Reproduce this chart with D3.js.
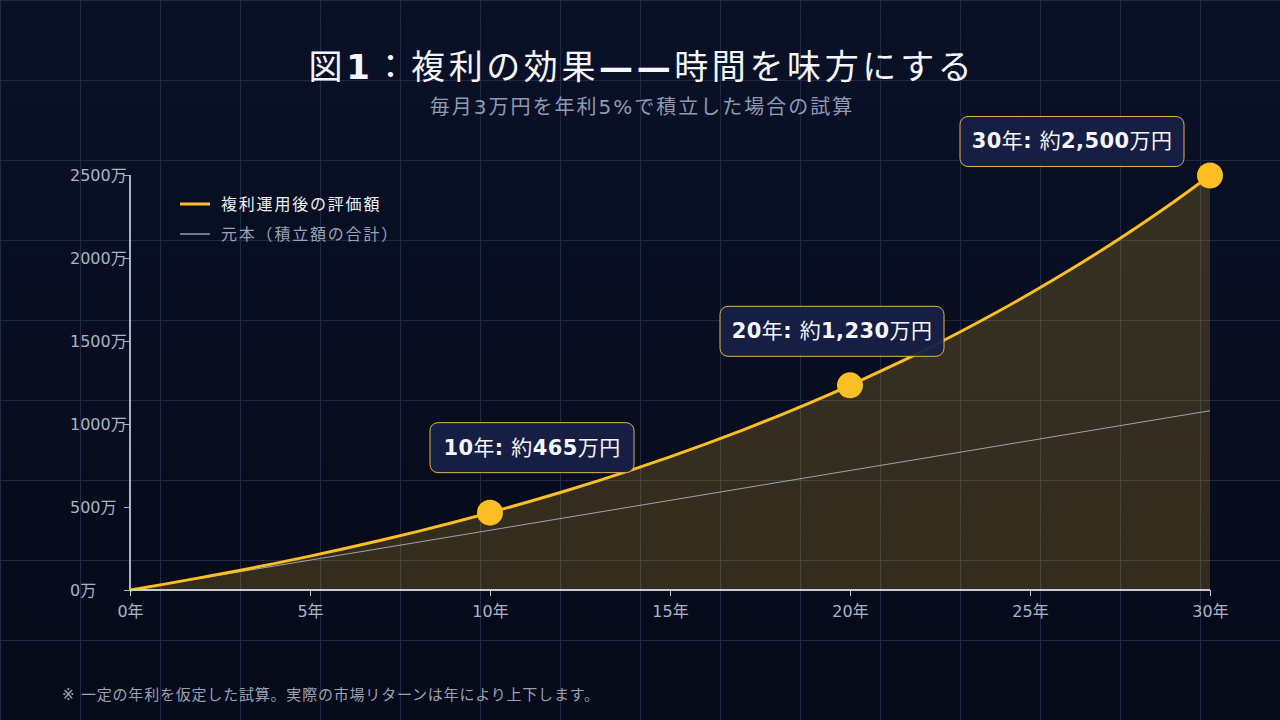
<!DOCTYPE html>
<html lang="ja">
<head>
<meta charset="utf-8">
<script src="https://cdn.jsdelivr.net/npm/d3@7.9.0/dist/d3.min.js"></script>
<style>
  html, body { margin: 0; padding: 0; background: #080d1f; }
  svg { display: block; font-family: "DejaVu Sans", "Noto Sans CJK JP", sans-serif; }
</style>
</head>
<body>
<svg id="chart" width="1280" height="720"></svg>
<script>
// ---- data (万円) ----
const years = d3.range(0, 31);
const compoundValues = [
  0, 37, 76, 116, 159, 204, 251, 301, 353, 408,
  466, 527, 590, 657, 728, 802, 880, 962, 1048, 1138,
  1233, 1333, 1438, 1548, 1664, 1786, 1914, 2048, 2190, 2339, 2497
];
const principalValues = [
  0, 36, 72, 108, 144, 180, 216, 252, 288, 324,
  360, 396, 432, 468, 504, 540, 576, 612, 648, 684,
  720, 756, 792, 828, 864, 900, 936, 972, 1008, 1044, 1080
];
const yTicks = [0, 500, 1000, 1500, 2000, 2500];
const xTicks = [0, 5, 10, 15, 20, 25, 30];
const markerYears = [10, 20, 30];
const markerLabels = ['465', '1,230', '2,500'];
const seriesNames = ['複利運用後の評価額', '元本（積立額の合計）'];

const GOLD = '#fbbf24';

const svg = d3.select('#chart');
const W = 1280, H = 720;

// background + 80px grid
const bg = svg.append('defs').append('linearGradient')
  .attr('id', 'bg').attr('x1', 0).attr('y1', 0).attr('x2', 0).attr('y2', 1);
bg.append('stop').attr('offset', 0).attr('stop-color', '#0a1127');
bg.append('stop').attr('offset', 1).attr('stop-color', '#060a19');
svg.append('rect').attr('width', W).attr('height', H).attr('fill', 'url(#bg)');

const grid = svg.append('g').attr('stroke', '#1f2844').attr('stroke-width', 1);
grid.selectAll('line.v').data(d3.range(0, W + 1, 80)).join('line')
  .attr('x1', d => d + 0.5).attr('x2', d => d + 0.5).attr('y1', 0).attr('y2', H);
grid.selectAll('line.h').data(d3.range(0, H + 1, 80)).join('line')
  .attr('y1', d => d + 0.5).attr('y2', d => d + 0.5).attr('x1', 0).attr('x2', W);

// scales
const x = d3.scaleLinear().domain([0, 30]).range([130, 1210]);
const y = d3.scaleLinear().domain([0, 2500]).range([590, 175]);

// title (latin bits bold, CJK regular like the original)
const title = svg.append('text')
  .attr('x', 642).attr('y', 79).attr('text-anchor', 'middle')
  .attr('fill', '#f4f6fb').attr('font-size', 34).attr('letter-spacing', 3.6);
title.append('tspan').text('図');
title.append('tspan').attr('font-weight', 'bold').text('1');
title.append('tspan').text('：複利の効果');
title.append('tspan').attr('font-weight', 'bold').text('——');
title.append('tspan').text('時間を味方にする');

svg.append('text')
  .attr('x', 642).attr('y', 114).attr('text-anchor', 'middle')
  .attr('fill', '#8f9bb3').attr('font-size', 20).attr('letter-spacing', 2)
  .text('毎月3万円を年利5%で積立した場合の試算');

// area + lines
const area = d3.area()
  .x((d, i) => x(years[i])).y0(y(0)).y1(d => y(d))
  .curve(d3.curveMonotoneX);
svg.append('path').datum(compoundValues)
  .attr('d', area).attr('fill', GOLD).attr('fill-opacity', 0.19);

const line = d3.line()
  .x((d, i) => x(years[i])).y(d => y(d))
  .curve(d3.curveMonotoneX);
svg.append('path').datum(principalValues)
  .attr('d', line).attr('fill', 'none')
  .attr('stroke', '#b8c0d0').attr('stroke-width', 1).attr('stroke-opacity', 0.8);
svg.append('path').datum(compoundValues)
  .attr('d', line).attr('fill', 'none')
  .attr('stroke', GOLD).attr('stroke-width', 3);

// axes
const yAxis = svg.append('g').attr('transform', `translate(${x(0)},0)`)
  .call(d3.axisLeft(y).tickValues(yTicks).tickSize(6).tickFormat(''));
yAxis.select('.domain').attr('stroke', '#a9b4c8').attr('stroke-width', 2)
  .attr('d', `M0,${y(0)}V${y(2500)}`);
yAxis.selectAll('.tick line').attr('stroke', '#a9b4c8');
svg.append('g').selectAll('text').data(yTicks).join('text')
  .attr('x', 70).attr('y', d => y(d) + 6)
  .attr('fill', '#a9b4c8').attr('font-size', 16)
  .text(d => `${d}万`);

const xAxis = svg.append('g').attr('transform', `translate(0,${y(0)})`)
  .call(d3.axisBottom(x).tickValues(xTicks).tickSize(6).tickPadding(10)
    .tickFormat(d => `${d}年`));
xAxis.select('.domain').attr('stroke', '#c9ccd4').attr('stroke-width', 2)
  .attr('d', `M${x(0)},0H${x(30)}`);
xAxis.selectAll('.tick line').attr('stroke', '#c9ccd4');
xAxis.selectAll('.tick text').attr('fill', '#a9b4c8').attr('font-size', 16)
  .attr('font-family', '"DejaVu Sans", "Noto Sans CJK JP", sans-serif');

// legend
const legend = svg.append('g').attr('transform', 'translate(180,204)');
legend.selectAll('line').data(seriesNames).join('line')
  .attr('x1', 0).attr('x2', 30)
  .attr('y1', (d, i) => i * 30).attr('y2', (d, i) => i * 30)
  .attr('stroke', (d, i) => i === 0 ? GOLD : '#b8c0d0')
  .attr('stroke-width', (d, i) => i === 0 ? 3 : 1.2);
legend.selectAll('text').data(seriesNames).join('text')
  .attr('x', 41).attr('y', (d, i) => i * 30 + 6)
  .attr('font-size', 16).attr('letter-spacing', 1.8)
  .attr('fill', (d, i) => i === 0 ? '#eef1f6' : '#98a3b8')
  .text(d => d);

// markers + callouts
const boxOffsets = [[-60, -90], [-130, -79], [-250, -59]];
const boxW = [204, 224, 224], boxH = 50;
markerYears.forEach((yr, i) => {
  const cx = x(yr), cy = y(compoundValues[yr]);
  const bx = cx + boxOffsets[i][0], by = cy + boxOffsets[i][1];
  const g = svg.append('g');
  g.append('rect')
    .attr('x', bx).attr('y', by).attr('width', boxW[i]).attr('height', boxH)
    .attr('rx', 8).attr('fill', '#172046').attr('fill-opacity', 0.95)
    .attr('stroke', '#e3b545').attr('stroke-width', 1);
  const t = g.append('text')
    .attr('x', bx + boxW[i] / 2).attr('y', by + 32).attr('text-anchor', 'middle')
    .attr('fill', '#f4f6fb').attr('font-size', 21).attr('letter-spacing', 0.4);
  t.append('tspan').attr('font-weight', 'bold').text(`${yr}`);
  t.append('tspan').text('年');
  t.append('tspan').attr('font-weight', 'bold').text(': ');
  t.append('tspan').text('約');
  t.append('tspan').attr('font-weight', 'bold').text(markerLabels[i]);
  t.append('tspan').text('万円');
  svg.append('circle').attr('cx', cx).attr('cy', cy).attr('r', 13).attr('fill', GOLD);
});

// footnote
svg.append('text')
  .attr('x', 62).attr('y', 700)
  .attr('fill', '#9aa3b5').attr('font-size', 15).attr('letter-spacing', 0.8)
  .text('※ 一定の年利を仮定した試算。実際の市場リターンは年により上下します。');
</script>
</body>
</html>
